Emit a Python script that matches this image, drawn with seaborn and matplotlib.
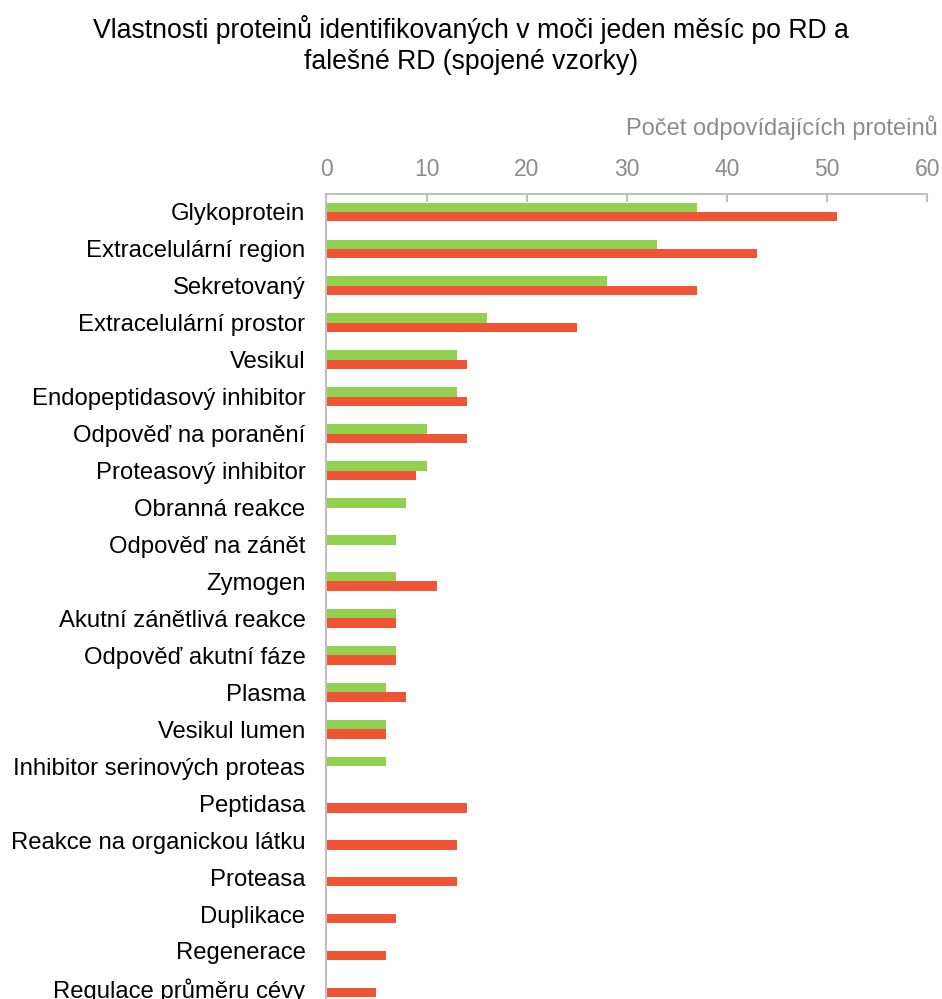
import matplotlib
matplotlib.use("Agg")
import matplotlib.pyplot as plt
import seaborn as sns
import pandas as pd
import numpy as np

categories = [
    "Glykoprotein", "Extracelulární region", "Sekretovaný", "Extracelulární prostor",
    "Vesikul", "Endopeptidasový inhibitor", "Odpověď na poranění", "Proteasový inhibitor",
    "Obranná reakce", "Odpověď na zánět", "Zymogen", "Akutní zánětlivá reakce",
    "Odpověď akutní fáze", "Plasma", "Vesikul lumen", "Inhibitor serinových proteas",
    "Peptidasa", "Reakce na organickou látku", "Proteasa", "Duplikace", "Regenerace",
    "Regulace průměru cévy",
]
series_names = ["RD", "falešná RD"]
green_values = [37, 33, 28, 16, 13, 13, 10, 10, 8, 7, 7, 7, 7, 6, 6, 6,
                np.nan, np.nan, np.nan, np.nan, np.nan, np.nan]
red_values = [51, 43, 37, 25, 14, 14, 14, 9, np.nan, np.nan, 11, 7, 7, 8, 6, np.nan,
              14, 13, 13, 7, 6, 5]
x_ticks = [0, 10, 20, 30, 40, 50, 60]

df = pd.DataFrame({
    "kategorie": categories * 2,
    "skupina": [series_names[0]] * len(categories) + [series_names[1]] * len(categories),
    "pocet": green_values + red_values,
}).dropna()

sns.set_theme(style="white")
plt.rcParams["font.family"] = ["Liberation Sans", "DejaVu Sans"]

GREEN = "#92D050"
RED = "#EF5535"
GRAY = "#BFBFBF"
TXT_GRAY = "#8C8C8C"

W, H = 942, 999
fig = plt.figure(figsize=(W / 100, H / 100), dpi=100)
left = 326.3 / W
right = 927.5 / W
top = 1 - 193.5 / H
cat_h = 36.95
bottom = 1 - (193.5 + cat_h * len(categories)) / H
ax = fig.add_axes([left, bottom, right - left, top - bottom])

sns.barplot(data=df, y="kategorie", x="pocet", hue="skupina", order=categories,
            hue_order=series_names, palette=[GREEN, RED], orient="h",
            width=0.51, errorbar=None, legend=False, ax=ax, saturation=1,
            linewidth=0)

ax.set_xlim(0, 60)
ax.set_ylim(len(categories) - 0.5, -0.5)
ax.set_xticks(x_ticks)
ax.xaxis.tick_top()
ax.set_xlabel("")
ax.set_ylabel("")
ax.tick_params(axis="x", direction="in", length=6, width=1.5, color=GRAY,
               labelcolor=TXT_GRAY, labelsize=16.5, pad=9, top=True, bottom=False)
ax.tick_params(axis="y", length=0, labelsize=17.2, pad=15, labelcolor="#000000")
for s in ["right", "bottom"]:
    ax.spines[s].set_visible(False)
for s in ["top", "left"]:
    ax.spines[s].set_color(GRAY)
    ax.spines[s].set_linewidth(1.5)
ax.grid(False)

fig.text(938 / W, 1 - 128 / H, "Počet odpovídajících proteinů", ha="right", va="center",
         color=TXT_GRAY, fontsize=17)
fig.text(0.5, 1 - 30 / H, "Vlastnosti proteinů identifikovaných v moči jeden měsíc po RD a",
         ha="center", va="center", fontsize=19.2, color="#000000")
fig.text(0.5, 1 - 62 / H, "falešné RD (spojené vzorky)",
         ha="center", va="center", fontsize=19.2, color="#000000")

fig.savefig("out.png", dpi=100)
